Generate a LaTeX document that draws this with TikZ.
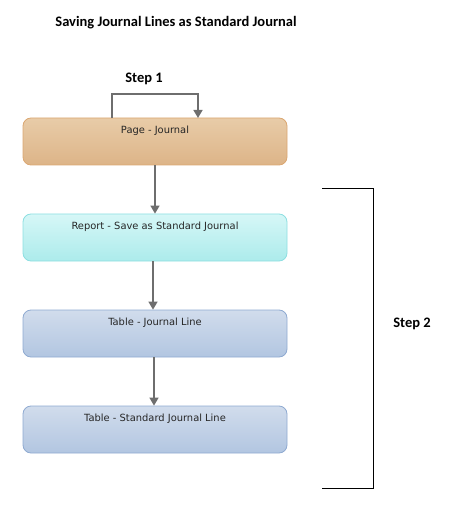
\documentclass[tikz,border=0pt]{standalone}
\usepackage{fontspec}
\setmainfont{DejaVu Sans}
\newfontfamily\headfont{Carlito}
\usetikzlibrary{arrows.meta,positioning}
\definecolor{pgtop}{HTML}{E8CCA8}
\definecolor{pgbot}{HTML}{DDB488}
\definecolor{pgbd}{HTML}{DBA772}
\definecolor{rptop}{HTML}{D6F7F7}
\definecolor{rpbot}{HTML}{ACEBEB}
\definecolor{rpbd}{HTML}{8DDFE1}
\definecolor{tbtop}{HTML}{D1DCEC}
\definecolor{tbbot}{HTML}{B2C6E1}
\definecolor{tbbd}{HTML}{8FAAD1}
\definecolor{arr}{HTML}{6E6E6E}
\begin{document}
\begin{tikzpicture}[x=1pt,y=-1pt,
  box/.style={rounded corners=8pt,minimum width=264pt,minimum height=47pt,inner sep=0pt,line width=0.8pt},
  pagebox/.style={box,draw=pgbd,top color=pgtop,bottom color=pgbot},
  repbox/.style={box,draw=rpbd,top color=rptop,bottom color=rpbot},
  tabbox/.style={box,draw=tbbd,top color=tbtop,bottom color=tbbot},
  boxtext/.style={font=\fontsize{9.9pt}{11pt}\selectfont,text=black!85},
  conn/.style={draw=arr,line width=1.6pt,-{Triangle[width=9pt,length=8pt]}},
  head/.style={font=\headfont\bfseries\fontsize{14.5pt}{16pt}\selectfont}]
\useasboundingbox (0,0) rectangle (449,518);
\node[head] (title) at (176,23) {Saving Journal Lines as Standard Journal};
\node[pagebox] (page) at (155,141.5) {};
\node[repbox] (rep) at (155,237.5) {};
\node[tabbox] (jl) at (155,333.5) {};
\node[tabbox] (sjl) at (155,429.5) {};
\node[boxtext] (tpage) at (155,131) {Page - Journal};
\node[boxtext] (trep) at (155,227) {Report - Save as Standard Journal};
\node[boxtext] (tjl) at (155,323) {Table - Journal Line};
\node[boxtext] (tsjl) at (155,419) {Table - Standard Journal Line};
\node[head] (s1) at (144,79) {Step 1};
\node[head] (s2) at (412,324) {Step 2};
\coordinate (l1) at (112,118);
\coordinate (l2) at (198,118);
\draw[conn] (l1) -- (112,94) -- (198,94) -- (l2);
\draw[conn] (page.south) -- (rep.north);
\draw[conn] (rep.south -| 153,0) -- (jl.north -| 153,0);
\draw[conn] (jl.south -| 154,0) -- (sjl.north -| 154,0);
\coordinate (b1) at (322,188);
\coordinate (b2) at (322,488);
\draw[black,line width=0.8pt] (b1) -- (373,188) -- (373,488) -- (b2);
\end{tikzpicture}
\end{document}
